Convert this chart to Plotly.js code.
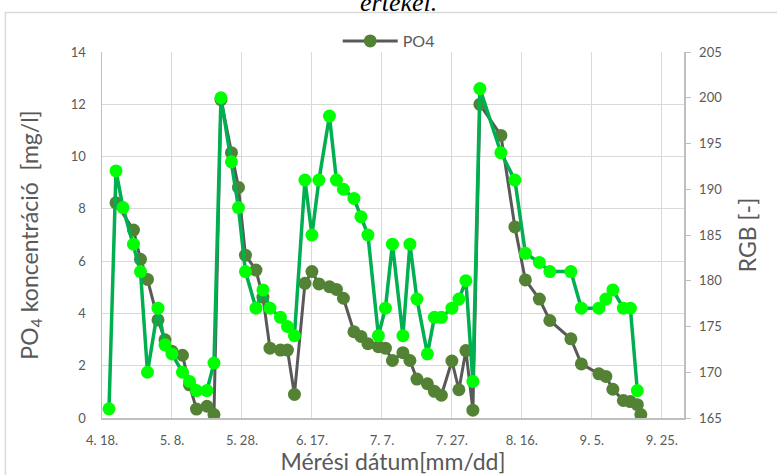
<!DOCTYPE html>
<html>
<head>
<meta charset="utf-8">
<script src="https://cdn.plot.ly/plotly-3.0.1.min.js"></script>
<style>
  html, body { margin: 0; padding: 0; background: #ffffff; }
  #chart { width: 777px; height: 475px; }
</style>
</head>
<body>
<div id="chart"></div>
<script>
// Sampling dates (2019 season)
const dates = [
  '2019-04-20', '2019-04-22', '2019-04-24', '2019-04-27', '2019-04-29',
  '2019-05-01', '2019-05-04', '2019-05-06', '2019-05-08', '2019-05-11',
  '2019-05-13', '2019-05-15', '2019-05-18', '2019-05-20', '2019-05-22',
  '2019-05-25', '2019-05-27', '2019-05-29', '2019-06-01', '2019-06-03',
  '2019-06-05', '2019-06-08', '2019-06-10', '2019-06-12', '2019-06-15',
  '2019-06-17', '2019-06-19', '2019-06-22', '2019-06-24', '2019-06-26',
  '2019-06-29', '2019-07-01', '2019-07-03', '2019-07-06', '2019-07-08',
  '2019-07-10', '2019-07-13', '2019-07-15', '2019-07-17', '2019-07-20',
  '2019-07-22', '2019-07-24', '2019-07-27', '2019-07-29', '2019-07-31',
  '2019-08-02', '2019-08-04', '2019-08-10', '2019-08-14', '2019-08-17',
  '2019-08-21', '2019-08-24', '2019-08-30', '2019-09-02', '2019-09-07',
  '2019-09-09', '2019-09-11', '2019-09-14', '2019-09-16', '2019-09-18',
  '2019-09-19'
];

// PO4 concentration [mg/l]
const po4 = [
  null, 8.23, null, 7.19, 6.07,
  5.30, 3.75, 2.99, 2.55, 2.40,
  1.27, 0.34, 0.45, 0.13, 12.18,
  10.15, 8.82, 6.23, 5.66, 4.62,
  2.67, 2.60, 2.60, 0.90, 5.15,
  5.60, 5.13, 5.02, 4.92, 4.58,
  3.30, 3.12, 2.84, 2.73, 2.67,
  2.20, 2.50, 2.20, 1.49, 1.31,
  1.02, 0.87, 2.18, 1.08, 2.58,
  0.30, 12.00, 10.81, 7.31, 5.28,
  4.55, 3.73, 3.03, 2.07, 1.69,
  1.59, 1.10, 0.67, 0.63, 0.51,
  0.13
];

// RGB value [-]
const rgb = [
  166, 192, 188, 184, 181,
  170, 177, 173, 172, 170,
  169, 168, 168, 171, 200,
  193, 188, 181, 177, 179,
  177, 176, 175, 174, 191,
  185, 191, 198, 191, 190,
  189, 187, 185, 174, 177,
  184, 174, 184, 178, 172,
  176, 176, 177, 178, 180,
  169, 201, 194, 191, 183,
  182, 181, 181, 177, 177,
  178, 179, 177, 177, 168,
  null
];

const tickDates = ['2019-04-18', '2019-05-08', '2019-05-28', '2019-06-17', '2019-07-07',
                   '2019-07-27', '2019-08-16', '2019-09-05', '2019-09-25'];
const tickLabels = ['4. 18.', '5. 8.', '5. 28.', '6. 17.', '7. 7.',
                    '7. 27.', '8. 16.', '9. 5.', '9. 25.'];

const FONT = 'Lato, "Open Sans", sans-serif';
const GREY = '#595959';

const traces = [
  {
    name: 'PO4',
    x: dates, y: po4,
    type: 'scatter', mode: 'lines+markers',
    connectgaps: true,
    line: { color: '#595959', width: 3 },
    marker: { color: '#548235', size: 13 },
    yaxis: 'y'
  },
  {
    name: 'RGB',
    x: dates, y: rgb,
    type: 'scatter', mode: 'lines+markers',
    connectgaps: true,
    showlegend: false,
    line: { color: '#00B050', width: 3.5 },
    marker: { color: '#00FF00', size: 13 },
    yaxis: 'y2'
  }
];

const layout = {
  width: 777, height: 475,
  margin: { l: 102, r: 93, t: 52, b: 57, autoexpand: false },
  paper_bgcolor: '#ffffff',
  plot_bgcolor: '#ffffff',
  font: { family: FONT, color: GREY, size: 13 },
  showlegend: true,
  legend: {
    orientation: 'h', x: 0.405, xanchor: 'left', y: 1.03, yanchor: 'middle',
    itemwidth: 55,
    font: { family: FONT, size: 16, color: GREY },
    bgcolor: 'rgba(0,0,0,0)'
  },
  xaxis: {
    type: 'date',
    range: ['2019-04-18', '2019-10-01 08:00'],
    tickmode: 'array', tickvals: tickDates, ticktext: tickLabels,
    showgrid: true, gridcolor: '#d9d9d9', gridwidth: 1,
    showline: true, linecolor: '#bfbfbf', linewidth: 1.5,
    ticks: '', ticklabelstandoff: 10,
    tickfont: { family: FONT, size: 13, color: GREY },
    zeroline: false,
    automargin: false,
    title: { text: 'Mérési dátum[mm/dd]', font: { family: FONT, size: 23, color: GREY }, standoff: 5 }
  },
  yaxis: {
    range: [0, 14], dtick: 2, tick0: 0,
    showgrid: true, gridcolor: '#d9d9d9', gridwidth: 1,
    showline: true, linecolor: '#bfbfbf', linewidth: 1.5,
    ticks: '', ticklabelstandoff: 12,
    tickfont: { family: FONT, size: 13, color: GREY },
    zeroline: false,
    automargin: false,
    title: { text: 'PO<sub>4</sub> koncentráció  [mg/l]', font: { family: FONT, size: 23, color: GREY }, standoff: 26 }
  },
  yaxis2: {
    overlaying: 'y', side: 'right',
    range: [165, 205], dtick: 5, tick0: 165,
    showgrid: false,
    showline: true, linecolor: '#bfbfbf', linewidth: 1.5,
    ticks: 'outside', ticklen: 5, tickcolor: '#bfbfbf', ticklabelstandoff: 6,
    tickfont: { family: FONT, size: 13, color: GREY },
    zeroline: false,
    automargin: false,
    title: { text: 'RGB [-]', font: { family: FONT, size: 23, color: GREY }, standoff: 18 }
  },
  shapes: [
    {
      type: 'rect', xref: 'paper', yref: 'paper',
      x0: -0.166, x1: 1.2, y0: -0.25, y1: 1.108,
      line: { color: '#d9d9d9', width: 1.5 }, fillcolor: 'rgba(0,0,0,0)', layer: 'below'
    }
  ],
  annotations: [
    {
      text: 'értékel.', xref: 'paper', yref: 'paper',
      x: 0.51, y: 1.135, xanchor: 'center', yanchor: 'middle', showarrow: false,
      font: { family: '"Liberation Serif", serif', size: 26, color: '#000000', style: 'italic' }
    }
  ]
};

Plotly.newPlot('chart', traces, layout, { displayModeBar: false, staticPlot: true });
</script>
</body>
</html>
